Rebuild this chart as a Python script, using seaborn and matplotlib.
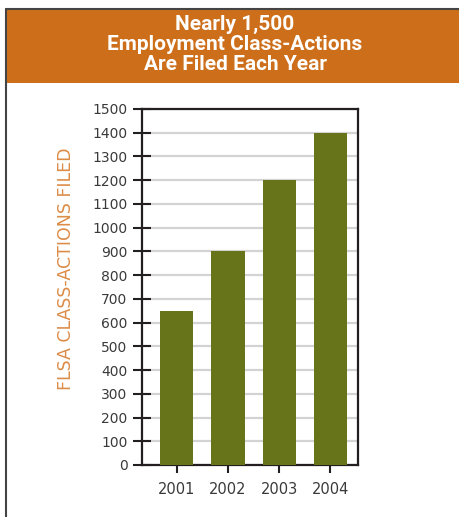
import matplotlib
matplotlib.use("Agg")
import matplotlib.pyplot as plt
import seaborn as sns
import pandas as pd
from matplotlib.patches import Rectangle
from matplotlib.lines import Line2D

years = ["2001", "2002", "2003", "2004"]
filed = [650, 900, 1200, 1400]
y_ticks = list(range(0, 1501, 100))
title = "Nearly 1,500\nEmployment Class-Actions\nAre Filed Each Year"
y_label = "FLSA CLASS-ACTIONS FILED"

df = pd.DataFrame({"year": years, "filed": filed})

sns.set_theme(style="ticks")
plt.rcParams["font.family"] = ["DejaVu Sans"]
plt.rcParams["font.sans-serif"] = ["DejaVu Sans"]

W, H = 460, 517
fig = plt.figure(figsize=(W / 100, H / 100), dpi=100)
fig.patch.set_facecolor("white")

# banner
fig.patches.append(Rectangle((7 / W, 1 - 83 / H), 1 - 7 / W, 73 / H, transform=fig.transFigure,
                             facecolor="#CD6F1A", edgecolor="none", zorder=0))
fig.lines.append(Line2D([6 / W, 6 / W], [0, 1 - 9 / H], transform=fig.transFigure, color="#444444", lw=1.5))
fig.lines.append(Line2D([6 / W, 1], [1 - 9 / H, 1 - 9 / H], transform=fig.transFigure, color="#444444", lw=1.5))
fig.text(235 / W, 1 - 44.5 / H, title, ha="center", va="center", color="white", fontsize=15,
         fontweight="bold", family=["Roboto", "DejaVu Sans"], linespacing=1.08)

ax = fig.add_axes([142 / W, 52 / H, 216 / W, 356 / H])
sns.barplot(data=df, x="year", y="filed", color="#687419", saturation=1, width=0.65,
            linewidth=0, ax=ax, zorder=3)
ax.set_xlim(-0.68, 3.54)
ax.set_ylim(0, 1500)
ax.set_yticks(y_ticks)
ax.set_yticklabels([str(t) for t in y_ticks])
ax.yaxis.grid(True, color="#d3d3d3", lw=1.6, zorder=0)
ax.set_axisbelow(True)
for s in ax.spines.values():
    s.set_visible(True)
    s.set_color("#231f20")
    s.set_linewidth(1.6)
ax.tick_params(axis="y", direction="inout", length=13, width=1.5, color="#231f20",
               labelsize=10, labelcolor="#3a3a3a", pad=4, left=True)
ax.tick_params(axis="x", direction="out", length=6, width=1.5, color="#231f20",
               labelsize=10.5, labelcolor="#3a3a3a", pad=6, bottom=True)
for lab in ax.get_xticklabels() + ax.get_yticklabels():
    lab.set_family("DejaVu Sans")
ax.set_xlabel("")
ax.set_ylabel(y_label, color="#DC8C48", fontsize=12.5, family="DejaVu Sans")
ax.yaxis.set_label_coords(-0.31, 0.55)

fig.savefig("out.png", dpi=100)
